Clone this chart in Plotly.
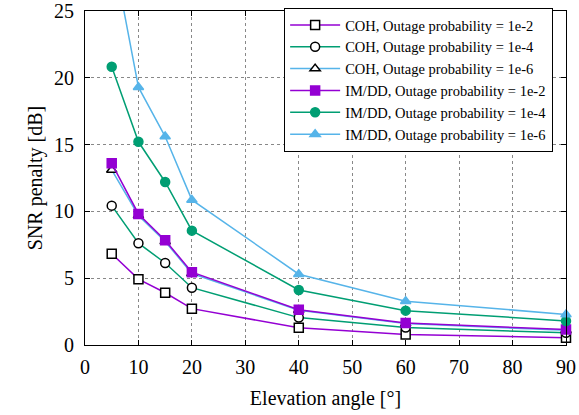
import plotly.graph_objects as go

angles = [5, 10, 15, 20, 40, 60, 90]

coh_1e2 = [6.83, 4.93, 3.91, 2.72, 1.29, 0.79, 0.54]
coh_1e4 = [10.43, 7.62, 6.14, 4.29, 2.05, 1.31, 0.91]
coh_1e6 = [13.1, 9.7, 7.75, 5.35, 2.6, 1.6, 1.1]
imdd_1e2 = [13.6, 9.81, 7.84, 5.45, 2.64, 1.65, 1.16]
imdd_1e4 = [20.83, 15.21, 12.2, 8.56, 4.12, 2.57, 1.8]
imdd_1e6 = [29.8, 19.3, 15.6, 10.86, 5.3, 3.28, 2.29]

x_ticks = [0, 10, 20, 30, 40, 50, 60, 70, 80, 90]
y_ticks = [0, 5, 10, 15, 20, 25]

PURPLE = "#9400d3"
GREEN = "#009e73"
CYAN = "#56b4e9"

series = [
    ("COH, Outage probability = 1e-2", coh_1e2, PURPLE, "square", "white", "black", 9),
    ("COH, Outage probability = 1e-4", coh_1e4, GREEN, "circle", "white", "black", 9),
    ("COH, Outage probability = 1e-6", coh_1e6, CYAN, "triangle-up", "white", "black", 9),
    ("IM/DD, Outage probability = 1e-2", imdd_1e2, PURPLE, "square", PURPLE, PURPLE, 9),
    ("IM/DD, Outage probability = 1e-4", imdd_1e4, GREEN, "circle", GREEN, GREEN, 9),
    ("IM/DD, Outage probability = 1e-6", imdd_1e6, CYAN, "triangle-up", CYAN, CYAN, 9),
]

fig = go.Figure()
for name, ys, lc, sym, fill, edge, size in series:
    fig.add_trace(go.Scatter(
        x=angles, y=ys, name=name, mode="lines+markers",
        line=dict(color=lc, width=1.5),
        marker=dict(symbol=sym, color=fill, size=size, line=dict(color=edge, width=1.5)),
        cliponaxis=False,
    ))

axis_common = dict(
    showline=True, linecolor="black", linewidth=1, mirror="allticks",
    ticks="inside", ticklen=5, tickcolor="black",
    showgrid=True, gridcolor="#888888", griddash="dot", gridwidth=1,
    zeroline=False, automargin=False, ticklabeloverflow="allow",
    tickfont=dict(family="Liberation Serif", size=20, color="black"),
)

fig.update_layout(
    width=579, height=415,
    margin=dict(l=85, r=13, t=8, b=70),
    paper_bgcolor="white", plot_bgcolor="white",
    font=dict(family="Liberation Serif", color="black"),
    xaxis=dict(range=[0, 90], tickvals=x_ticks, ticklabelstandoff=4,
               title=dict(text="Elevation angle [°]", font=dict(size=20), standoff=13),
               **axis_common),
    yaxis=dict(range=[0, 25], tickvals=y_ticks, ticklabelstandoff=6,
               title=dict(text="SNR penalty [dB]", font=dict(size=20), standoff=6),
               **axis_common),
    legend=dict(x=0.414, y=1.009, xanchor="left", yanchor="top",
                bgcolor="white", bordercolor="black", borderwidth=1,
                font=dict(family="Liberation Serif", size=14.5, color="black"),
                itemwidth=50, tracegroupgap=0),
    showlegend=True,
)

fig.write_html("out.html", config={"displayModeBar": False},
               post_script="document.body.style.margin='0';")
